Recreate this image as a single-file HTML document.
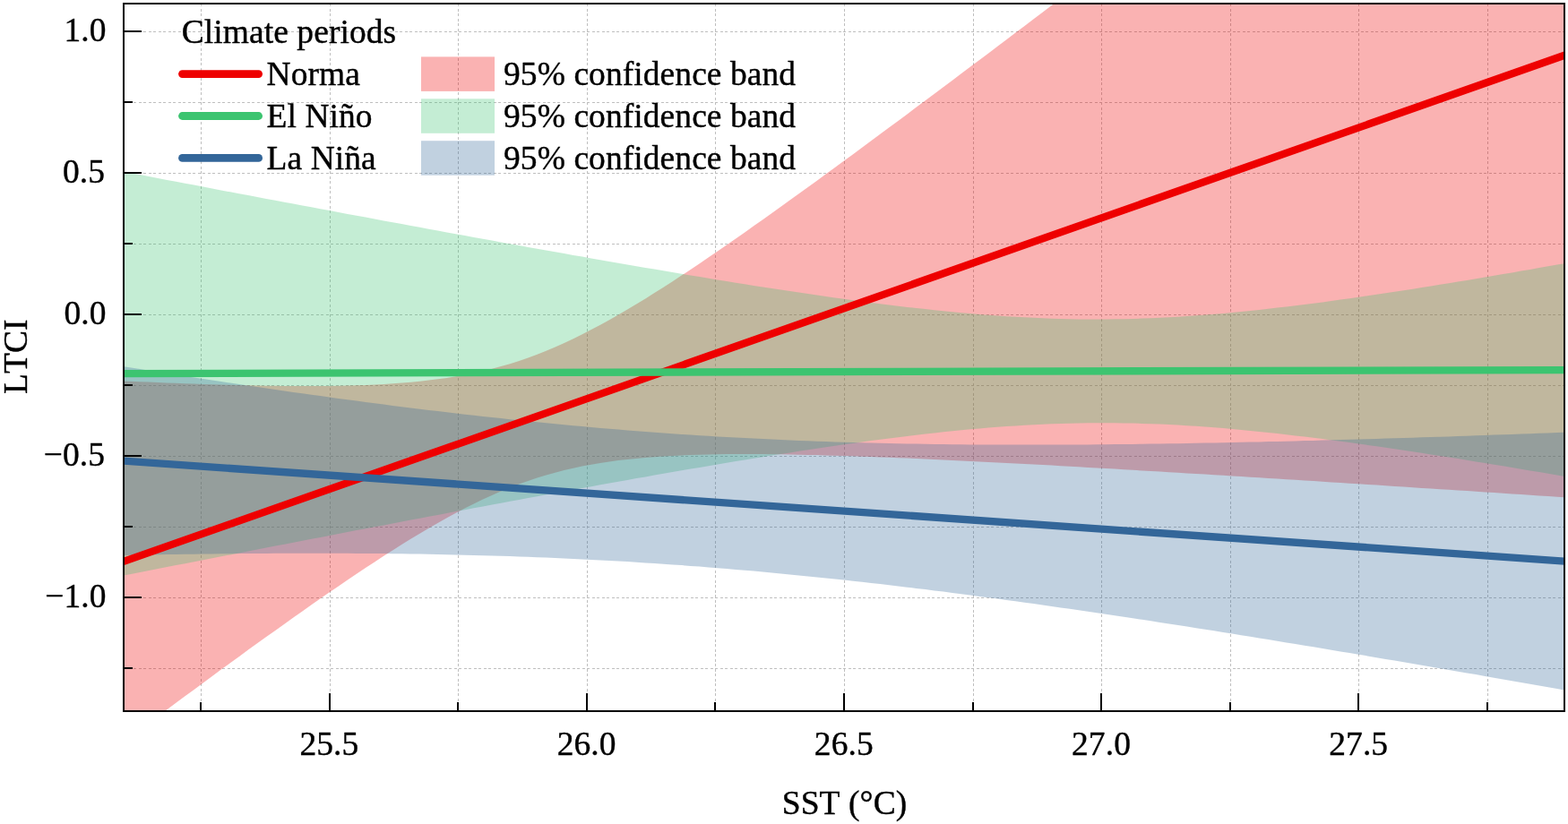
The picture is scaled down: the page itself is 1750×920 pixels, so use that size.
<!DOCTYPE html>
<html lang="en"><head><meta charset="utf-8"><title>LTCI vs SST by climate period</title>
<style>html,body{margin:0;padding:0;background:#fff}body{width:1750px;height:920px;overflow:hidden}svg{display:block}text{font-family:'Liberation Serif', 'Times New Roman', serif;font-size:37.5px;fill:#000;font-kerning:none;letter-spacing:0.07px;stroke:#000;stroke-width:0.4px;stroke-linejoin:round}</style>
</head><body>
<svg width="1750" height="920" viewBox="0 0 1750 920">
<rect x="0" y="0" width="1750" height="920" fill="#fff"/>
<defs><clipPath id="ax"><rect x="138" y="4" width="1608" height="790"/></clipPath></defs>
<g stroke="#bfbfbf" stroke-width="1" stroke-dasharray="3 3 3 2" fill="none" shape-rendering="crispEdges">
<path d="M224.5,794V4"/>
<path d="M368.5,794V4"/>
<path d="M511.5,794V4"/>
<path d="M655.5,794V4"/>
<path d="M798.5,794V4"/>
<path d="M942.5,794V4"/>
<path d="M1086.5,794V4"/>
<path d="M1229.5,794V4"/>
<path d="M1373.5,794V4"/>
<path d="M1516.5,794V4"/>
<path d="M1660.5,794V4"/>
<path d="M138,35.5H1746"/>
<path d="M138,114.5H1746"/>
<path d="M138,193.5H1746"/>
<path d="M138,272.5H1746"/>
<path d="M138,351.5H1746"/>
<path d="M138,430.5H1746"/>
<path d="M138,509.5H1746"/>
<path d="M138,588.5H1746"/>
<path d="M138,667.5H1746"/>
<path d="M138,746.5H1746"/>
</g>
<g clip-path="url(#ax)">
<path d="M136.0,425.3L146.1,425.7L156.2,426.2L166.2,426.6L176.3,427.0L186.4,427.4L196.4,427.8L206.5,428.2L216.6,428.5L226.7,428.9L236.8,429.2L246.8,429.5L256.9,429.8L267.0,430.0L277.0,430.3L287.1,430.5L297.2,430.7L307.3,430.8L317.4,430.9L327.4,431.0L337.5,431.0L347.6,431.0L357.6,431.0L367.7,430.9L377.8,430.7L387.9,430.5L397.9,430.2L408.0,429.9L418.1,429.4L428.2,428.9L438.2,428.3L448.3,427.5L458.4,426.7L468.5,425.7L478.5,424.6L488.6,423.3L498.7,421.9L508.8,420.3L518.8,418.5L528.9,416.5L539.0,414.3L549.1,411.8L559.1,409.1L569.2,406.2L579.3,402.9L589.4,399.5L599.5,395.7L609.5,391.7L619.6,387.5L629.7,383.0L639.8,378.3L649.8,373.3L659.9,368.1L670.0,362.8L680.0,357.2L690.1,351.5L700.2,345.6L710.3,339.6L720.3,333.4L730.4,327.1L740.5,320.7L750.6,314.2L760.6,307.6L770.7,300.9L780.8,294.2L790.9,287.3L800.9,280.4L811.0,273.5L821.1,266.5L831.2,259.4L841.2,252.3L851.3,245.2L861.4,238.0L871.5,230.8L881.5,223.6L891.6,216.3L901.7,209.0L911.8,201.7L921.8,194.3L931.9,187.0L942.0,179.6L952.1,172.2L962.1,164.7L972.2,157.3L982.3,149.8L992.4,142.3L1002.4,134.9L1012.5,127.4L1022.6,119.8L1032.7,112.3L1042.8,104.8L1052.8,97.2L1062.9,89.7L1073.0,82.1L1083.0,74.5L1093.1,67.0L1103.2,59.4L1113.3,51.8L1123.3,44.2L1133.4,36.6L1143.5,29.0L1153.6,21.3L1163.6,13.7L1173.7,6.1L1183.8,-1.6L1193.9,-9.2L1203.9,-16.8L1214.0,-24.5L1224.1,-32.2L1234.2,-39.8L1244.2,-47.5L1254.3,-55.1L1264.4,-62.8L1274.5,-70.5L1284.5,-78.2L1294.6,-85.8L1304.7,-93.5L1314.8,-101.2L1324.8,-108.9L1334.9,-116.6L1345.0,-124.3L1355.1,-132.0L1365.1,-139.7L1375.2,-147.4L1385.3,-155.1L1395.4,-162.8L1405.4,-170.5L1415.5,-178.2L1425.6,-185.9L1435.7,-193.6L1445.8,-200.0L1455.8,-200.0L1465.9,-200.0L1476.0,-200.0L1486.0,-200.0L1496.1,-200.0L1506.2,-200.0L1516.3,-200.0L1526.3,-200.0L1536.4,-200.0L1546.5,-200.0L1556.6,-200.0L1566.6,-200.0L1576.7,-200.0L1586.8,-200.0L1596.9,-200.0L1606.9,-200.0L1617.0,-200.0L1627.1,-200.0L1637.2,-200.0L1647.2,-200.0L1657.3,-200.0L1667.4,-200.0L1677.5,-200.0L1687.5,-200.0L1697.6,-200.0L1707.7,-200.0L1717.8,-200.0L1727.8,-200.0L1737.9,-200.0L1748.0,-200.0L1748.0,555.4L1737.9,554.8L1727.8,554.1L1717.8,553.4L1707.7,552.8L1697.6,552.1L1687.5,551.4L1677.5,550.8L1667.4,550.1L1657.3,549.5L1647.2,548.8L1637.2,548.1L1627.1,547.5L1617.0,546.8L1606.9,546.2L1596.9,545.5L1586.8,544.9L1576.7,544.2L1566.6,543.6L1556.6,542.9L1546.5,542.3L1536.4,541.6L1526.3,541.0L1516.3,540.3L1506.2,539.7L1496.1,539.0L1486.0,538.4L1476.0,537.8L1465.9,537.1L1455.8,536.5L1445.8,535.8L1435.7,535.2L1425.6,534.6L1415.5,534.0L1405.4,533.3L1395.4,532.7L1385.3,532.1L1375.2,531.5L1365.1,530.8L1355.1,530.2L1345.0,529.6L1334.9,529.0L1324.8,528.4L1314.8,527.8L1304.7,527.2L1294.6,526.6L1284.5,526.0L1274.5,525.4L1264.4,524.8L1254.3,524.2L1244.2,523.6L1234.2,523.0L1224.1,522.5L1214.0,521.9L1203.9,521.3L1193.9,520.7L1183.8,520.2L1173.7,519.6L1163.6,519.1L1153.6,518.5L1143.5,518.0L1133.4,517.5L1123.3,516.9L1113.3,516.4L1103.2,515.9L1093.1,515.4L1083.0,514.9L1073.0,514.4L1062.9,513.9L1052.8,513.4L1042.8,513.0L1032.7,512.5L1022.6,512.1L1012.5,511.6L1002.4,511.2L992.4,510.8L982.3,510.4L972.2,510.0L962.1,509.7L952.1,509.3L942.0,509.0L931.9,508.7L921.8,508.4L911.8,508.1L901.7,507.9L891.6,507.7L881.5,507.5L871.5,507.3L861.4,507.2L851.3,507.1L841.2,507.0L831.2,507.0L821.1,507.0L811.0,507.1L800.9,507.3L790.9,507.4L780.8,507.7L770.7,508.0L760.6,508.4L750.6,508.9L740.5,509.5L730.4,510.2L720.3,511.0L710.3,511.9L700.2,512.9L690.1,514.1L680.0,515.5L670.0,517.0L659.9,518.7L649.8,520.6L639.8,522.7L629.7,525.1L619.6,527.7L609.5,530.5L599.5,533.6L589.4,536.9L579.3,540.5L569.2,544.4L559.1,548.5L549.1,552.9L539.0,557.5L528.9,562.4L518.8,567.5L508.8,572.8L498.7,578.2L488.6,583.9L478.5,589.7L468.5,595.7L458.4,601.8L448.3,608.0L438.2,614.4L428.2,620.8L418.1,627.4L408.0,634.0L397.9,640.7L387.9,647.5L377.8,654.4L367.7,661.3L357.6,668.3L347.6,675.3L337.5,682.4L327.4,689.5L317.4,696.7L307.3,703.9L297.2,711.1L287.1,718.3L277.0,725.6L267.0,732.9L256.9,740.3L246.8,747.6L236.8,755.0L226.7,762.4L216.6,769.9L206.5,777.3L196.4,784.7L186.4,792.2L176.3,799.7L166.2,807.2L156.2,814.7L146.1,822.2L136.0,829.8Z" fill="#ee0000" fill-opacity="0.3"/>
<path d="M136.0,191.3L146.1,193.2L156.2,195.1L166.2,197.0L176.3,199.0L186.4,200.9L196.4,202.8L206.5,204.7L216.6,206.6L226.7,208.5L236.8,210.4L246.8,212.4L256.9,214.3L267.0,216.2L277.0,218.1L287.1,220.0L297.2,221.9L307.3,223.8L317.4,225.7L327.4,227.6L337.5,229.5L347.6,231.3L357.6,233.2L367.7,235.1L377.8,237.0L387.9,238.9L397.9,240.8L408.0,242.6L418.1,244.5L428.2,246.4L438.2,248.3L448.3,250.1L458.4,252.0L468.5,253.8L478.5,255.7L488.6,257.6L498.7,259.4L508.8,261.3L518.8,263.1L528.9,264.9L539.0,266.8L549.1,268.6L559.1,270.4L569.2,272.2L579.3,274.1L589.4,275.9L599.5,277.7L609.5,279.5L619.6,281.3L629.7,283.1L639.8,284.9L649.8,286.6L659.9,288.4L670.0,290.2L680.0,291.9L690.1,293.7L700.2,295.4L710.3,297.2L720.3,298.9L730.4,300.6L740.5,302.3L750.6,304.0L760.6,305.7L770.7,307.4L780.8,309.1L790.9,310.8L800.9,312.4L811.0,314.0L821.1,315.7L831.2,317.3L841.2,318.9L851.3,320.4L861.4,322.0L871.5,323.6L881.5,325.1L891.6,326.6L901.7,328.1L911.8,329.6L921.8,331.0L931.9,332.4L942.0,333.8L952.1,335.2L962.1,336.6L972.2,337.9L982.3,339.2L992.4,340.4L1002.4,341.7L1012.5,342.9L1022.6,344.0L1032.7,345.1L1042.8,346.2L1052.8,347.3L1062.9,348.2L1073.0,349.2L1083.0,350.1L1093.1,350.9L1103.2,351.7L1113.3,352.5L1123.3,353.2L1133.4,353.8L1143.5,354.3L1153.6,354.8L1163.6,355.3L1173.7,355.7L1183.8,356.0L1193.9,356.2L1203.9,356.4L1214.0,356.5L1224.1,356.5L1234.2,356.5L1244.2,356.3L1254.3,356.2L1264.4,355.9L1274.5,355.6L1284.5,355.2L1294.6,354.8L1304.7,354.2L1314.8,353.7L1324.8,353.0L1334.9,352.3L1345.0,351.6L1355.1,350.7L1365.1,349.9L1375.2,348.9L1385.3,348.0L1395.4,347.0L1405.4,345.9L1415.5,344.8L1425.6,343.6L1435.7,342.5L1445.8,341.2L1455.8,340.0L1465.9,338.7L1476.0,337.4L1486.0,336.0L1496.1,334.6L1506.2,333.2L1516.3,331.8L1526.3,330.3L1536.4,328.8L1546.5,327.3L1556.6,325.8L1566.6,324.2L1576.7,322.7L1586.8,321.1L1596.9,319.5L1606.9,317.8L1617.0,316.2L1627.1,314.5L1637.2,312.9L1647.2,311.2L1657.3,309.5L1667.4,307.8L1677.5,306.1L1687.5,304.4L1697.6,302.6L1707.7,300.9L1717.8,299.1L1727.8,297.3L1737.9,295.6L1748.0,293.8L1748.0,532.3L1737.9,530.5L1727.8,528.8L1717.8,527.1L1707.7,525.4L1697.6,523.7L1687.5,522.0L1677.5,520.3L1667.4,518.7L1657.3,517.0L1647.2,515.4L1637.2,513.7L1627.1,512.1L1617.0,510.5L1606.9,508.9L1596.9,507.4L1586.8,505.8L1576.7,504.3L1566.6,502.8L1556.6,501.3L1546.5,499.8L1536.4,498.3L1526.3,496.9L1516.3,495.5L1506.2,494.1L1496.1,492.7L1486.0,491.4L1476.0,490.1L1465.9,488.8L1455.8,487.6L1445.8,486.4L1435.7,485.2L1425.6,484.1L1415.5,483.0L1405.4,481.9L1395.4,480.9L1385.3,479.9L1375.2,479.0L1365.1,478.1L1355.1,477.3L1345.0,476.6L1334.9,475.8L1324.8,475.2L1314.8,474.6L1304.7,474.1L1294.6,473.6L1284.5,473.2L1274.5,472.9L1264.4,472.6L1254.3,472.4L1244.2,472.3L1234.2,472.2L1224.1,472.2L1214.0,472.3L1203.9,472.5L1193.9,472.7L1183.8,473.0L1173.7,473.3L1163.6,473.7L1153.6,474.2L1143.5,474.8L1133.4,475.4L1123.3,476.1L1113.3,476.8L1103.2,477.6L1093.1,478.5L1083.0,479.3L1073.0,480.3L1062.9,481.3L1052.8,482.3L1042.8,483.4L1032.7,484.6L1022.6,485.7L1012.5,486.9L1002.4,488.2L992.4,489.5L982.3,490.8L972.2,492.1L962.1,493.5L952.1,494.9L942.0,496.3L931.9,497.8L921.8,499.2L911.8,500.7L901.7,502.3L891.6,503.8L881.5,505.4L871.5,506.9L861.4,508.5L851.3,510.2L841.2,511.8L831.2,513.4L821.1,515.1L811.0,516.8L800.9,518.5L790.9,520.2L780.8,521.9L770.7,523.6L760.6,525.3L750.6,527.1L740.5,528.8L730.4,530.6L720.3,532.4L710.3,534.1L700.2,535.9L690.1,537.7L680.0,539.5L670.0,541.3L659.9,543.2L649.8,545.0L639.8,546.8L629.7,548.7L619.6,550.5L609.5,552.3L599.5,554.2L589.4,556.1L579.3,557.9L569.2,559.8L559.1,561.7L549.1,563.5L539.0,565.4L528.9,567.3L518.8,569.2L508.8,571.1L498.7,573.0L488.6,574.9L478.5,576.8L468.5,578.7L458.4,580.6L448.3,582.5L438.2,584.5L428.2,586.4L418.1,588.3L408.0,590.2L397.9,592.1L387.9,594.1L377.8,596.0L367.7,597.9L357.6,599.9L347.6,601.8L337.5,603.8L327.4,605.7L317.4,607.7L307.3,609.6L297.2,611.6L287.1,613.5L277.0,615.5L267.0,617.4L256.9,619.4L246.8,621.3L236.8,623.3L226.7,625.3L216.6,627.2L206.5,629.2L196.4,631.1L186.4,633.1L176.3,635.1L166.2,637.1L156.2,639.0L146.1,641.0L136.0,643.0Z" fill="#3cc470" fill-opacity="0.3"/>
<path d="M136.0,408.9L146.1,410.5L156.2,412.1L166.2,413.7L176.3,415.3L186.4,416.9L196.4,418.4L206.5,420.0L216.6,421.5L226.7,423.1L236.8,424.6L246.8,426.1L256.9,427.6L267.0,429.1L277.0,430.6L287.1,432.1L297.2,433.6L307.3,435.0L317.4,436.5L327.4,437.9L337.5,439.3L347.6,440.7L357.6,442.1L367.7,443.5L377.8,444.9L387.9,446.3L397.9,447.6L408.0,449.0L418.1,450.3L428.2,451.6L438.2,452.9L448.3,454.2L458.4,455.4L468.5,456.7L478.5,457.9L488.6,459.1L498.7,460.3L508.8,461.5L518.8,462.7L528.9,463.8L539.0,464.9L549.1,466.1L559.1,467.1L569.2,468.2L579.3,469.3L589.4,470.3L599.5,471.3L609.5,472.3L619.6,473.3L629.7,474.3L639.8,475.2L649.8,476.1L659.9,477.0L670.0,477.9L680.0,478.8L690.1,479.6L700.2,480.4L710.3,481.2L720.3,482.0L730.4,482.7L740.5,483.5L750.6,484.2L760.6,484.9L770.7,485.5L780.8,486.2L790.9,486.8L800.9,487.4L811.0,488.0L821.1,488.5L831.2,489.1L841.2,489.6L851.3,490.1L861.4,490.6L871.5,491.0L881.5,491.5L891.6,491.9L901.7,492.3L911.8,492.7L921.8,493.0L931.9,493.4L942.0,493.7L952.1,494.0L962.1,494.3L972.2,494.5L982.3,494.8L992.4,495.0L1002.4,495.2L1012.5,495.4L1022.6,495.6L1032.7,495.8L1042.8,495.9L1052.8,496.1L1062.9,496.2L1073.0,496.3L1083.0,496.4L1093.1,496.5L1103.2,496.5L1113.3,496.6L1123.3,496.6L1133.4,496.6L1143.5,496.6L1153.6,496.6L1163.6,496.6L1173.7,496.6L1183.8,496.6L1193.9,496.5L1203.9,496.5L1214.0,496.4L1224.1,496.3L1234.2,496.2L1244.2,496.1L1254.3,496.0L1264.4,495.9L1274.5,495.8L1284.5,495.6L1294.6,495.5L1304.7,495.3L1314.8,495.2L1324.8,495.0L1334.9,494.8L1345.0,494.6L1355.1,494.4L1365.1,494.2L1375.2,494.0L1385.3,493.8L1395.4,493.6L1405.4,493.4L1415.5,493.1L1425.6,492.9L1435.7,492.7L1445.8,492.4L1455.8,492.1L1465.9,491.9L1476.0,491.6L1486.0,491.3L1496.1,491.1L1506.2,490.8L1516.3,490.5L1526.3,490.2L1536.4,489.9L1546.5,489.6L1556.6,489.3L1566.6,489.0L1576.7,488.7L1586.8,488.3L1596.9,488.0L1606.9,487.7L1617.0,487.4L1627.1,487.0L1637.2,486.7L1647.2,486.3L1657.3,486.0L1667.4,485.6L1677.5,485.3L1687.5,484.9L1697.6,484.6L1707.7,484.2L1717.8,483.8L1727.8,483.5L1737.9,483.1L1748.0,482.7L1748.0,770.8L1737.9,769.0L1727.8,767.2L1717.8,765.5L1707.7,763.7L1697.6,761.9L1687.5,760.2L1677.5,758.4L1667.4,756.7L1657.3,754.9L1647.2,753.1L1637.2,751.4L1627.1,749.7L1617.0,747.9L1606.9,746.2L1596.9,744.5L1586.8,742.7L1576.7,741.0L1566.6,739.3L1556.6,737.6L1546.5,735.9L1536.4,734.2L1526.3,732.4L1516.3,730.8L1506.2,729.1L1496.1,727.4L1486.0,725.7L1476.0,724.0L1465.9,722.3L1455.8,720.7L1445.8,719.0L1435.7,717.4L1425.6,715.7L1415.5,714.1L1405.4,712.4L1395.4,710.8L1385.3,709.2L1375.2,707.6L1365.1,706.0L1355.1,704.3L1345.0,702.8L1334.9,701.2L1324.8,699.6L1314.8,698.0L1304.7,696.4L1294.6,694.9L1284.5,693.3L1274.5,691.8L1264.4,690.3L1254.3,688.7L1244.2,687.2L1234.2,685.7L1224.1,684.2L1214.0,682.8L1203.9,681.3L1193.9,679.8L1183.8,678.4L1173.7,676.9L1163.6,675.5L1153.6,674.1L1143.5,672.7L1133.4,671.3L1123.3,669.9L1113.3,668.5L1103.2,667.2L1093.1,665.9L1083.0,664.5L1073.0,663.2L1062.9,661.9L1052.8,660.6L1042.8,659.4L1032.7,658.1L1022.6,656.9L1012.5,655.7L1002.4,654.4L992.4,653.3L982.3,652.1L972.2,650.9L962.1,649.8L952.1,648.7L942.0,647.6L931.9,646.5L921.8,645.4L911.8,644.4L901.7,643.4L891.6,642.4L881.5,641.4L871.5,640.4L861.4,639.5L851.3,638.5L841.2,637.6L831.2,636.7L821.1,635.9L811.0,635.0L800.9,634.2L790.9,633.4L780.8,632.6L770.7,631.9L760.6,631.1L750.6,630.4L740.5,629.7L730.4,629.0L720.3,628.4L710.3,627.8L700.2,627.1L690.1,626.6L680.0,626.0L670.0,625.4L659.9,624.9L649.8,624.4L639.8,623.9L629.7,623.5L619.6,623.0L609.5,622.6L599.5,622.2L589.4,621.8L579.3,621.5L569.2,621.1L559.1,620.8L549.1,620.5L539.0,620.2L528.9,619.9L518.8,619.7L508.8,619.4L498.7,619.2L488.6,619.0L478.5,618.8L468.5,618.6L458.4,618.5L448.3,618.3L438.2,618.2L428.2,618.1L418.1,618.0L408.0,617.9L397.9,617.9L387.9,617.8L377.8,617.8L367.7,617.7L357.6,617.7L347.6,617.7L337.5,617.7L327.4,617.7L317.4,617.8L307.3,617.8L297.2,617.9L287.1,617.9L277.0,618.0L267.0,618.1L256.9,618.2L246.8,618.3L236.8,618.4L226.7,618.5L216.6,618.7L206.5,618.8L196.4,619.0L186.4,619.1L176.3,619.3L166.2,619.5L156.2,619.6L146.1,619.8L136.0,620.0Z" fill="#336699" fill-opacity="0.3"/>
</g>
<g clip-path="url(#ax)" fill="none" stroke-width="8.33" stroke-linecap="butt">
<path d="M118.00,633.85L1766.00,54.72" stroke="#ee0000"/>
<path d="M118.00,417.17L1766.00,412.99" stroke="#3cc470"/>
<path d="M118.00,513.24L1766.00,628.01" stroke="#336699"/>
</g>
<g stroke="#000" stroke-width="2" fill="none" shape-rendering="crispEdges">
<path d="M224,794v-10"/>
<path d="M368,794v-20"/>
<path d="M511,794v-10"/>
<path d="M655,794v-20"/>
<path d="M798,794v-10"/>
<path d="M942,794v-20"/>
<path d="M1086,794v-10"/>
<path d="M1229,794v-20"/>
<path d="M1373,794v-10"/>
<path d="M1516,794v-20"/>
<path d="M1660,794v-10"/>
<path d="M138,35h20"/>
<path d="M138,114h10"/>
<path d="M138,193h20"/>
<path d="M138,272h10"/>
<path d="M138,351h20"/>
<path d="M138,430h10"/>
<path d="M138,509h20"/>
<path d="M138,588h10"/>
<path d="M138,667h20"/>
<path d="M138,746h10"/>
<rect x="138" y="4" width="1608" height="790"/>
</g>
<text transform="translate(367.40,842.70) scale(1,1.025)" text-anchor="middle">25.5</text>
<text transform="translate(654.60,842.70) scale(1,1.025)" text-anchor="middle">26.0</text>
<text transform="translate(941.80,842.70) scale(1,1.025)" text-anchor="middle">26.5</text>
<text transform="translate(1229.00,842.70) scale(1,1.025)" text-anchor="middle">27.0</text>
<text transform="translate(1516.20,842.70) scale(1,1.025)" text-anchor="middle">27.5</text>
<text transform="translate(118.50,45.70) scale(1,1.025)" text-anchor="end">1.0</text>
<text transform="translate(117.00,203.70) scale(1,1.025)" text-anchor="end">0.5</text>
<text transform="translate(118.50,361.70) scale(1,1.025)" text-anchor="end">0.0</text>
<text transform="translate(117.00,519.70) scale(1,1.025)" text-anchor="end">−0.5</text>
<text transform="translate(118.50,677.70) scale(1,1.025)" text-anchor="end">−1.0</text>
<text transform="translate(942.50,909.00) scale(1,1.025)" text-anchor="middle">SST (°C)</text>
<text transform="translate(30.40,398.20) rotate(-90) scale(1,1.025)" text-anchor="middle">LTCI</text>
<text transform="translate(202.70,48.20) scale(1,1.025)">Climate periods</text>
<path d="M203.5,82.6H288.6" stroke="#ee0000" stroke-width="8.8" stroke-linecap="round" fill="none"/>
<rect x="470" y="63.4" width="82" height="38.5" fill="#ee0000" fill-opacity="0.3"/>
<text transform="translate(297.50,94.80) scale(1,1.025)">Norma</text>
<text transform="translate(562.00,94.80) scale(1,1.025)">95% confidence band</text>
<path d="M203.5,129.5H288.6" stroke="#3cc470" stroke-width="8.8" stroke-linecap="round" fill="none"/>
<rect x="470" y="110.3" width="82" height="38.5" fill="#3cc470" fill-opacity="0.3"/>
<text transform="translate(297.50,141.70) scale(1,1.025)">El Niño</text>
<text transform="translate(562.00,141.70) scale(1,1.025)">95% confidence band</text>
<path d="M203.5,176.4H288.6" stroke="#336699" stroke-width="8.8" stroke-linecap="round" fill="none"/>
<rect x="470" y="157.2" width="82" height="38.5" fill="#336699" fill-opacity="0.3"/>
<text transform="translate(297.50,188.60) scale(1,1.025)">La Niña</text>
<text transform="translate(562.00,188.60) scale(1,1.025)">95% confidence band</text>
</svg>
</body></html>
